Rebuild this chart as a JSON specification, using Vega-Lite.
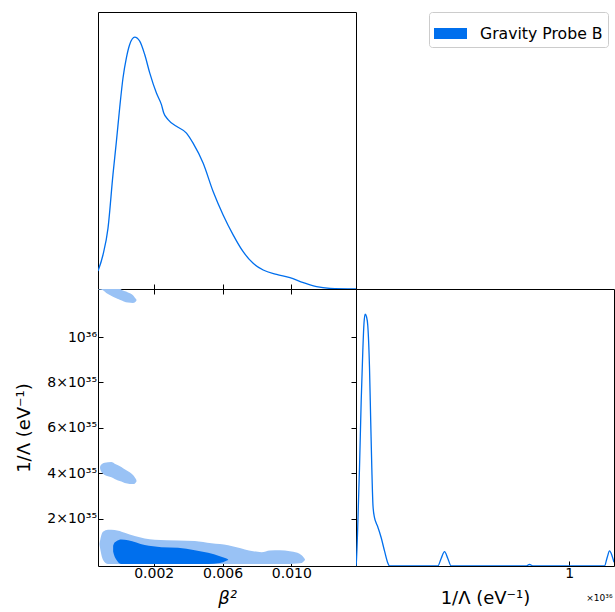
{
  "$schema": "https://vega.github.io/schema/vega-lite/v6.json",
  "background": "white",
  "padding": {"left": 15, "top": 11, "right": 0, "bottom": 0},
  "columns": 2,
  "spacing": 0,
  "bounds": "flush",
  "config": {
    "font": "DejaVu Sans",
    "view": {"stroke": "black", "strokeWidth": 1},
    "axis": {
      "grid": false, "domain": false, "tickColor": "black", "tickSize": -5, "tickWidth": 1,
      "labelFont": "DejaVu Sans", "labelFontSize": 14, "labelColor": "black", "labelOverlap": false, "labelFlush": false,
      "titleFont": "DejaVu Sans", "titleFontSize": 18, "titleFontWeight": "normal", "titleColor": "black"
    }
  },
  "datasets": {
    "beta1d": [
      {"beta2": -0.00124, "density": 0.0716}, {"beta2": -0.000952, "density": 0.135}, {"beta2": -0.00066, "density": 0.241},
      {"beta2": -0.00037, "density": 0.454}, {"beta2": -0.00017, "density": 0.586}, {"beta2": 0.00002, "density": 0.719},
      {"beta2": 0.000213, "density": 0.838}, {"beta2": 0.00041, "density": 0.918}, {"beta2": 0.000603, "density": 0.971},
      {"beta2": 0.000894, "density": 1.0}, {"beta2": 0.001185, "density": 0.984}, {"beta2": 0.001476, "density": 0.931},
      {"beta2": 0.001767, "density": 0.858}, {"beta2": 0.002157, "density": 0.778}, {"beta2": 0.002448, "density": 0.732},
      {"beta2": 0.002582, "density": 0.699}, {"beta2": 0.002833, "density": 0.673}, {"beta2": 0.003322, "density": 0.646},
      {"beta2": 0.003904, "density": 0.619}, {"beta2": 0.004288, "density": 0.579}, {"beta2": 0.00487, "density": 0.5},
      {"beta2": 0.005453, "density": 0.387}, {"beta2": 0.006035, "density": 0.294}, {"beta2": 0.006617, "density": 0.215},
      {"beta2": 0.0072, "density": 0.148}, {"beta2": 0.007782, "density": 0.102}, {"beta2": 0.008365, "density": 0.0756},
      {"beta2": 0.009145, "density": 0.058}, {"beta2": 0.009919, "density": 0.045}, {"beta2": 0.0107, "density": 0.025},
      {"beta2": 0.01147, "density": 0.009}, {"beta2": 0.01225, "density": 0.0024}, {"beta2": 0.01376, "density": 0.0}
    ],
    "lam1d": [
      {"inv_lambda": -0.09e35, "density": 0}, {"inv_lambda": -0.08e35, "density": 0.007}, {"inv_lambda": -0.019e35, "density": 0.126},
      {"inv_lambda": 0.076e35, "density": 0.39}, {"inv_lambda": 0.156e35, "density": 0.656}, {"inv_lambda": 0.232e35, "density": 0.854},
      {"inv_lambda": 0.289e35, "density": 0.965}, {"inv_lambda": 0.345e35, "density": 1.0}, {"inv_lambda": 0.407e35, "density": 0.99},
      {"inv_lambda": 0.468e35, "density": 0.954}, {"inv_lambda": 0.549e35, "density": 0.788}, {"inv_lambda": 0.606e35, "density": 0.576},
      {"inv_lambda": 0.658e35, "density": 0.39}, {"inv_lambda": 0.715e35, "density": 0.238}, {"inv_lambda": 0.786e35, "density": 0.192},
      {"inv_lambda": 0.866e35, "density": 0.171}, {"inv_lambda": 0.942e35, "density": 0.155}, {"inv_lambda": 1.103e35, "density": 0.112},
      {"inv_lambda": 1.259e35, "density": 0.06}, {"inv_lambda": 1.415e35, "density": 0.012}, {"inv_lambda": 1.496e35, "density": 0},
      {"inv_lambda": 3.78e35, "density": 0}, {"inv_lambda": 3.94e35, "density": 0.03}, {"inv_lambda": 4.1e35, "density": 0.057},
      {"inv_lambda": 4.255e35, "density": 0.03}, {"inv_lambda": 4.416e35, "density": 0},
      {"inv_lambda": 7.95e35, "density": 0}, {"inv_lambda": 8.12e35, "density": 0.006}, {"inv_lambda": 8.3e35, "density": 0},
      {"inv_lambda": 11.67e35, "density": 0}, {"inv_lambda": 11.8e35, "density": 0.035}, {"inv_lambda": 11.91e35, "density": 0.06},
      {"inv_lambda": 12.03e35, "density": 0.04}, {"inv_lambda": 12.12e35, "density": 0.015}
    ],
    "outer": [
      {"blob": "main", "beta2": -0.00115, "lo": 0.85e35, "hi": 0.9e35},
      {"blob": "main", "beta2": -0.001086, "lo": 0.56e35, "hi": 1.156e35},
      {"blob": "main", "beta2": -0.000952, "lo": 0.19e35, "hi": 1.422e35},
      {"blob": "main", "beta2": -0.000661, "lo": 0, "hi": 1.511e35},
      {"blob": "main", "beta2": -0.000271, "lo": 0, "hi": 1.498e35},
      {"blob": "main", "beta2": 0.000312, "lo": 0, "hi": 1.378e35},
      {"blob": "main", "beta2": 0.000894, "lo": 0, "hi": 1.231e35},
      {"blob": "main", "beta2": 0.001476, "lo": 0, "hi": 1.124e35},
      {"blob": "main", "beta2": 0.002058, "lo": 0, "hi": 1.067e35},
      {"blob": "main", "beta2": 0.003415, "lo": 0, "hi": 1.036e35},
      {"blob": "main", "beta2": 0.004387, "lo": 0, "hi": 1.009e35},
      {"blob": "main", "beta2": 0.00536, "lo": 0, "hi": 0.91e35},
      {"blob": "main", "beta2": 0.006326, "lo": 0, "hi": 0.83e35},
      {"blob": "main", "beta2": 0.006815, "lo": 0, "hi": 0.742e35},
      {"blob": "main", "beta2": 0.007782, "lo": 0, "hi": 0.564e35},
      {"blob": "main", "beta2": 0.008271, "lo": 0, "hi": 0.52e35},
      {"blob": "main", "beta2": 0.008754, "lo": 0, "hi": 0.591e35},
      {"blob": "main", "beta2": 0.009336, "lo": 0, "hi": 0.609e35},
      {"blob": "main", "beta2": 0.009918, "lo": 0, "hi": 0.56e35},
      {"blob": "main", "beta2": 0.010111, "lo": 0.01e35, "hi": 0.533e35},
      {"blob": "main", "beta2": 0.0106, "lo": 0.044e35, "hi": 0.387e35},
      {"blob": "main", "beta2": 0.010792, "lo": 0.17e35, "hi": 0.21e35},
      {"blob": "upper", "beta2": -0.00124, "lo": 12.1e35, "hi": 12.6e35},
      {"blob": "upper", "beta2": -0.001045, "lo": 12.09e35, "hi": 12.6e35},
      {"blob": "upper", "beta2": -0.000661, "lo": 11.9e35, "hi": 12.6e35},
      {"blob": "upper", "beta2": -0.000079, "lo": 11.68e35, "hi": 12.5e35},
      {"blob": "upper", "beta2": 0.00002, "lo": 11.65e35, "hi": 12.15e35},
      {"blob": "upper", "beta2": 0.000504, "lo": 11.52e35, "hi": 11.97e35},
      {"blob": "upper", "beta2": 0.000795, "lo": 11.5e35, "hi": 11.85e35},
      {"blob": "upper", "beta2": 0.000894, "lo": 11.52e35, "hi": 11.75e35},
      {"blob": "upper", "beta2": 0.000993, "lo": 11.6e35, "hi": 11.66e35},
      {"blob": "mid", "beta2": -0.00112, "lo": 4.22e35, "hi": 4.28e35},
      {"blob": "mid", "beta2": -0.001086, "lo": 4.12e35, "hi": 4.35e35},
      {"blob": "mid", "beta2": -0.000853, "lo": 3.92e35, "hi": 4.46e35},
      {"blob": "mid", "beta2": -0.000463, "lo": 3.82e35, "hi": 4.49e35},
      {"blob": "mid", "beta2": -0.000271, "lo": 3.75e35, "hi": 4.42e35},
      {"blob": "mid", "beta2": 0.000119, "lo": 3.63e35, "hi": 4.27e35},
      {"blob": "mid", "beta2": 0.000312, "lo": 3.57e35, "hi": 4.17e35},
      {"blob": "mid", "beta2": 0.000603, "lo": 3.53e35, "hi": 4.04e35},
      {"blob": "mid", "beta2": 0.000795, "lo": 3.52e35, "hi": 3.92e35},
      {"blob": "mid", "beta2": 0.000894, "lo": 3.54e35, "hi": 3.82e35},
      {"blob": "mid", "beta2": 0.000993, "lo": 3.62e35, "hi": 3.7e35}
    ],
    "inner": [
      {"blob": "core", "beta2": -0.00036, "lo": 0.55e35, "hi": 0.8e35},
      {"blob": "core", "beta2": -0.00031, "lo": 0.41e35, "hi": 0.9e35},
      {"blob": "core", "beta2": -0.000172, "lo": 0.19e35, "hi": 1.0e35},
      {"blob": "core", "beta2": 0.000119, "lo": 0, "hi": 1.08e35},
      {"blob": "core", "beta2": 0.000504, "lo": 0, "hi": 1.04e35},
      {"blob": "core", "beta2": 0.001476, "lo": 0, "hi": 0.831e35},
      {"blob": "core", "beta2": 0.002448, "lo": 0, "hi": 0.742e35},
      {"blob": "core", "beta2": 0.003415, "lo": 0, "hi": 0.711e35},
      {"blob": "core", "beta2": 0.004387, "lo": 0, "hi": 0.609e35},
      {"blob": "core", "beta2": 0.005162, "lo": 0, "hi": 0.489e35},
      {"blob": "core", "beta2": 0.005843, "lo": 0.04e35, "hi": 0.342e35},
      {"blob": "core", "beta2": 0.006192, "lo": 0.13e35, "hi": 0.25e35},
      {"blob": "core", "beta2": 0.006326, "lo": 0.18e35, "hi": 0.2e35}
    ]
  },
  "concat": [
    {
      "width": 258, "height": 277,
      "data": {"name": "beta1d"},
      "mark": {"type": "line", "color": "#006FED", "strokeWidth": 1.3, "clip": true, "interpolate": "monotone"},
      "encoding": {
        "x": {"field": "beta2", "type": "quantitative",
              "scale": {"domain": [-0.00124, 0.01376], "nice": false, "zero": false},
              "axis": {"values": [0.002, 0.006, 0.01], "labels": false, "title": null}},
        "y": {"field": "density", "type": "quantitative", "scale": {"domain": [0, 1.1], "nice": false}, "axis": null}
      }
    },
    {
      "width": 258, "height": 277,
      "view": {"stroke": null},
      "data": {"values": [{"series": "Gravity Probe B"}]},
      "mark": {"type": "square", "opacity": 0},
      "encoding": {
        "color": {"field": "series", "type": "nominal", "scale": {"range": ["#006FED"]},
          "legend": {"orient": "none", "legendX": 331, "legendY": 0, "title": null,
            "symbolType": "M-1,-0.33H1V0.33H-1Z", "symbolSize": 1089, "symbolOpacity": 1,
            "symbolFillColor": "#006FED", "symbolStrokeWidth": 0,
            "labelFont": "DejaVu Sans", "labelFontSize": 15.7, "labelColor": "black", "labelOffset": 13,
            "strokeColor": "#cccccc", "fillColor": "white", "padding": 5, "cornerRadius": 3}}
      }
    },
    {
      "width": 258, "height": 277,
      "layer": [
        {
          "data": {"name": "outer"},
          "mark": {"type": "area", "color": "#99C2F5", "clip": true, "interpolate": "monotone"},
          "encoding": {
            "x": {"field": "beta2", "type": "quantitative",
                  "scale": {"domain": [-0.00124, 0.01376], "nice": false, "zero": false},
                  "axis": {"values": [0.002, 0.006, 0.01], "format": ".3f", "title": "β²", "titleFontStyle": "italic", "labelPadding": 5, "titlePadding": 9}},
            "y": {"field": "lo", "type": "quantitative",
                  "scale": {"domain": [-0.09e35, 12.12e35], "nice": false, "zero": false},
                  "axis": {"values": [2e35, 4e35, 6e35, 8e35, 1e36],
                           "labelExpr": "datum.value >= 9.9e35 ? '10³⁶' : format(datum.value / 1e35, 'd') + '×10³⁵'",
                           "title": "1/Λ (eV⁻¹)", "labelPadding": 6.5, "titlePadding": 13}},
            "y2": {"field": "hi"},
            "detail": {"field": "blob"}
          }
        },
        {
          "data": {"name": "inner"},
          "mark": {"type": "area", "color": "#006FED", "clip": true, "interpolate": "monotone"},
          "encoding": {
            "x": {"field": "beta2", "type": "quantitative",
                  "axis": {"orient": "top", "values": [0.002, 0.006, 0.01], "labels": false, "title": null}},
            "y": {"field": "lo", "type": "quantitative",
                  "axis": {"orient": "right", "values": [2e35, 4e35, 6e35, 8e35, 1e36], "labels": false, "title": null}},
            "y2": {"field": "hi"},
            "detail": {"field": "blob"}
          }
        }
      ],
      "resolve": {"axis": {"x": "independent", "y": "independent"}}
    },
    {
      "width": 258, "height": 277,
      "layer": [
        {
          "data": {"name": "lam1d"},
          "mark": {"type": "line", "color": "#006FED", "strokeWidth": 1.3, "clip": true, "interpolate": "monotone"},
          "encoding": {
            "x": {"field": "inv_lambda", "type": "quantitative",
                  "scale": {"domain": [-0.09e35, 12.12e35], "nice": false, "zero": false},
                  "axis": {"values": [1e36], "labelExpr": "'1'", "title": "1/Λ (eV⁻¹)", "labelPadding": 5, "titlePadding": 9}},
            "y": {"field": "density", "type": "quantitative", "scale": {"domain": [0, 1.1], "nice": false}, "axis": null}
          }
        },
        {
          "data": {"values": [{"offset_label": "×10³⁶"}]},
          "mark": {"type": "text", "fontSize": 9, "align": "right", "baseline": "middle", "color": "black"},
          "encoding": {
            "x": {"datum": 12.05e35, "type": "quantitative"},
            "y": {"datum": -0.127, "type": "quantitative"},
            "text": {"field": "offset_label"}
          }
        }
      ]
    }
  ]
}
